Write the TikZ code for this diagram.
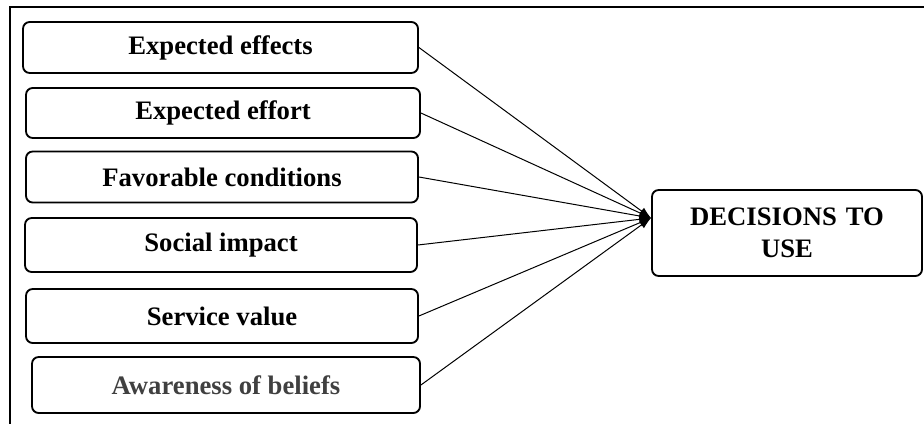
\documentclass[tikz,border=0pt]{standalone}
\usepackage{fontspec}
\setmainfont{Liberation Serif}
\usepackage{xcolor}
\usetikzlibrary{arrows.meta,positioning}
\definecolor{textgray}{HTML}{404040}
\tikzset{
  factorbox/.style={draw, line width=1.1pt, rounded corners=4pt, align=center, inner sep=2pt,
    font=\fontsize{16}{19}\selectfont\bfseries},
  decisionbox/.style={factorbox, text width=150pt},
  link/.style={-{Latex[length=7pt,width=5pt]}, line width=0.6pt},
  frameline/.style={line width=1.3pt}
}
\begin{document}
\begin{tikzpicture}[x=0.6pt,y=-0.6pt]
  \useasboundingbox (0,0) rectangle (924,424);
  \draw[frameline] (10,424) -- (10,7) -- (924,7);

  \node[factorbox, minimum width=237pt, minimum height=30.6pt] (effects) at (220.5,47.5) {Expected effects};
  \node[factorbox, minimum width=236.4pt, minimum height=30pt] (effort) at (223,113) {Expected effort};
  \node[factorbox, minimum width=235.2pt, minimum height=30.6pt] (conditions) at (222,177) {Favorable conditions};
  \node[factorbox, minimum width=235.2pt, minimum height=32.4pt] (social) at (221,245) {Social impact};
  \node[factorbox, minimum width=235.2pt, minimum height=32.4pt] (value) at (222,316) {Service value};
  \node[factorbox, minimum width=232.8pt, minimum height=33.6pt, text=textgray] (beliefs) at (226,385) {Awareness of beliefs};

  \node[decisionbox, minimum width=162pt, minimum height=51.6pt] (decision) at (787,233) {DECISIONS TO\\USE};
  \coordinate (hub) at (651,218);

  \draw[link] (effects.east) -- (hub);
  \draw[link] (effort.east) -- (hub);
  \draw[link] (conditions.east) -- (hub);
  \draw[link] (social.east) -- (hub);
  \draw[link] (value.east) -- (hub);
  \draw[link] (beliefs.east) -- (hub);
\end{tikzpicture}
\end{document}
